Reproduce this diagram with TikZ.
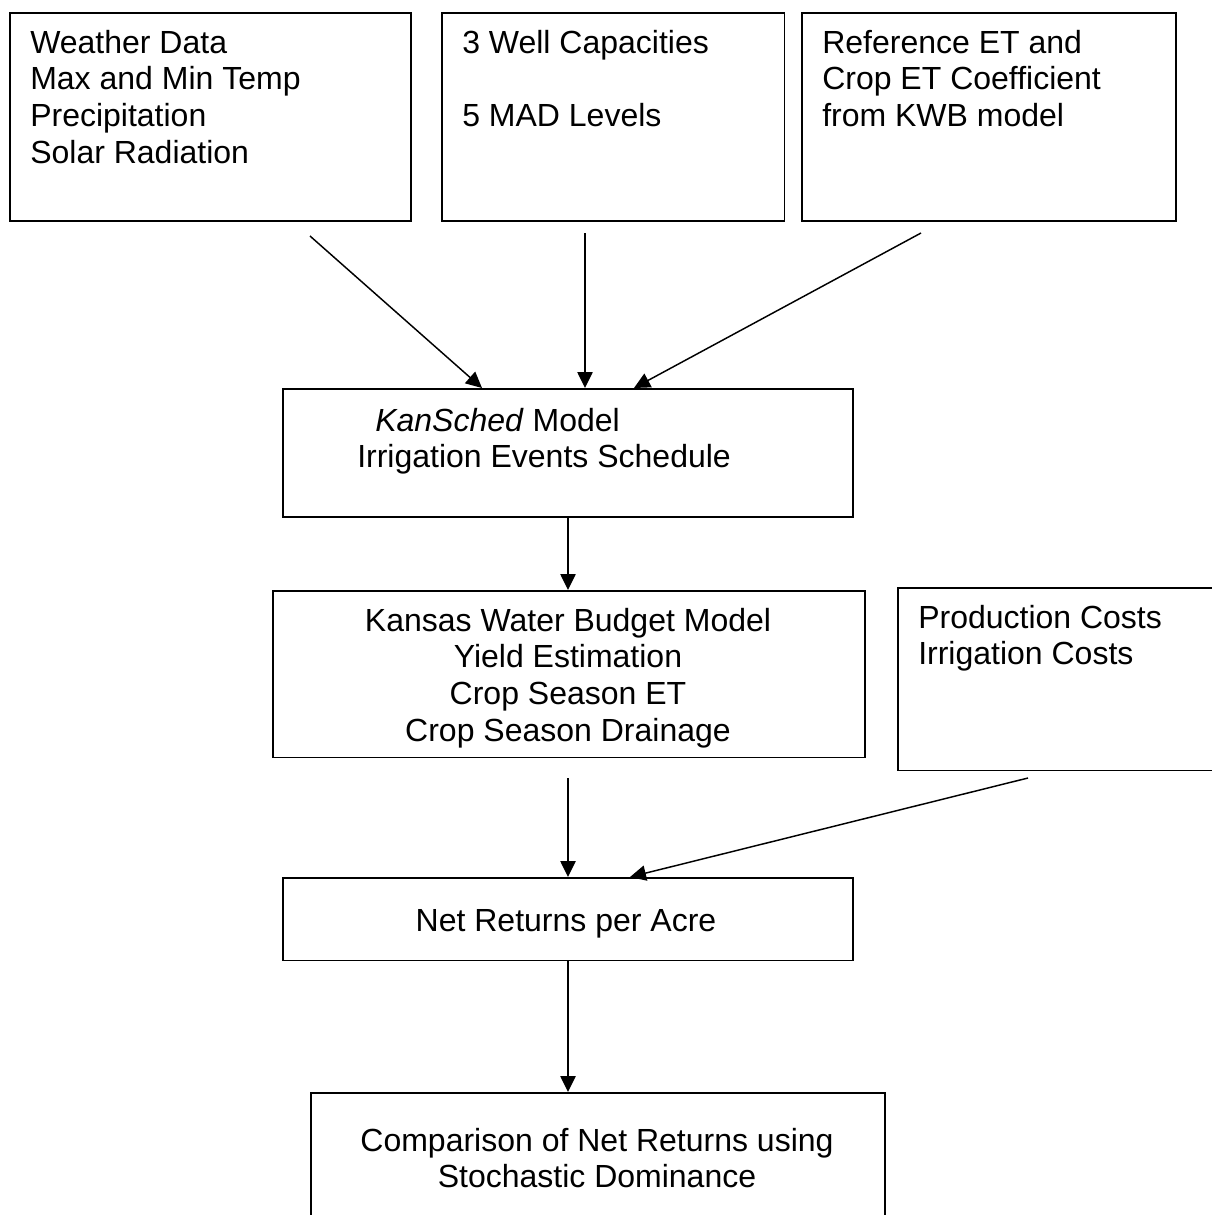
\documentclass[tikz,border=0pt]{standalone}
\usepackage{fontspec}
\setmainfont{Liberation Sans}
\usetikzlibrary{arrows.meta,calc}
\begin{document}
\begin{tikzpicture}[x=0.75pt,y=-0.75pt,
  box/.style={draw=black,line width=1.2pt,inner sep=0pt,anchor=north west},
  lbl/.style={inner sep=0pt,font=\fontsize{24}{27.5}\selectfont},
  arr/.style={line width=1.1pt,-{Triangle[length=12pt,width=11.5pt]}}]
\useasboundingbox (0,0) rectangle (1212,1215);
% boxes
\node[box,minimum width=301pt,minimum height=156pt] (b1) at (9,12) {};
\node[box,minimum width=257pt,minimum height=156pt] (b2) at (441,12) {};
\node[box,minimum width=280.5pt,minimum height=156pt] (b3) at (801,12) {};
\node[box,minimum width=427.5pt,minimum height=96pt] (k) at (282,388) {};
\node[box,minimum width=444pt,minimum height=125pt] (w) at (272,590) {};
\node[box,minimum width=262pt,minimum height=137pt] (p) at (897,587) {};
\node[box,minimum width=427.5pt,minimum height=62pt] (n) at (282,877) {};
\node[box,minimum width=430.5pt,minimum height=130pt] (c) at (310,1092) {};
% texts (base anchor = baseline of last line)
\node[lbl,anchor=base west,align=left] (t1) at (30,163.1) {Weather Data\\Max and Min Temp\\Precipitation\\Solar Radiation};
\node[lbl,anchor=base west,align=left] (t2) at (462,126.4) {3 Well Capacities\\[27.5pt]5 MAD Levels};
\node[lbl,anchor=base west,align=left] (t3) at (822,126.4) {Reference ET and\\Crop ET Coefficient\\from KWB model};
\node[lbl,anchor=base west,align=left] (tk) at (357,467.7) {\hspace*{13.5pt}\textit{KanSched} Model\\Irrigation Events Schedule};
\node[lbl,anchor=base,align=center] (tw) at (568,741) {Kansas Water Budget Model\\Yield Estimation\\Crop Season ET\\Crop Season Drainage};
\node[lbl,anchor=base west,align=left] (tp) at (918,664.7) {Production Costs\\Irrigation Costs};
\node[lbl,anchor=base] (tn) at (566,931) {Net Returns per Acre};
\node[lbl,anchor=base,align=center] (tc) at (597,1187.7) {Comparison of Net Returns using\\Stochastic Dominance};
% free ends
\coordinate (s1) at (310,236);
\coordinate (s2) at (585,233);
\coordinate (s3) at (921,233);
\coordinate (s5) at (568,778);
\coordinate (s6) at (1028,778);
% connectors
\draw[arr] (s1) -- ($(k.north west)+(200,0)$);
\draw[arr] (s2) -- (s2 |- k.north);
\draw[arr] (s3) -- ($(k.north west)+(352,0)$);
\draw[arr] (k.south -| 568,0) -- (w.north -| 568,0);
\draw[arr] (s5) -- (s5 |- n.north);
\draw[arr] (s6) -- ($(n.north west)+(348,0)$);
\draw[arr] (n.south -| 568,0) -- (c.north -| 568,0);
\end{tikzpicture}
\end{document}
